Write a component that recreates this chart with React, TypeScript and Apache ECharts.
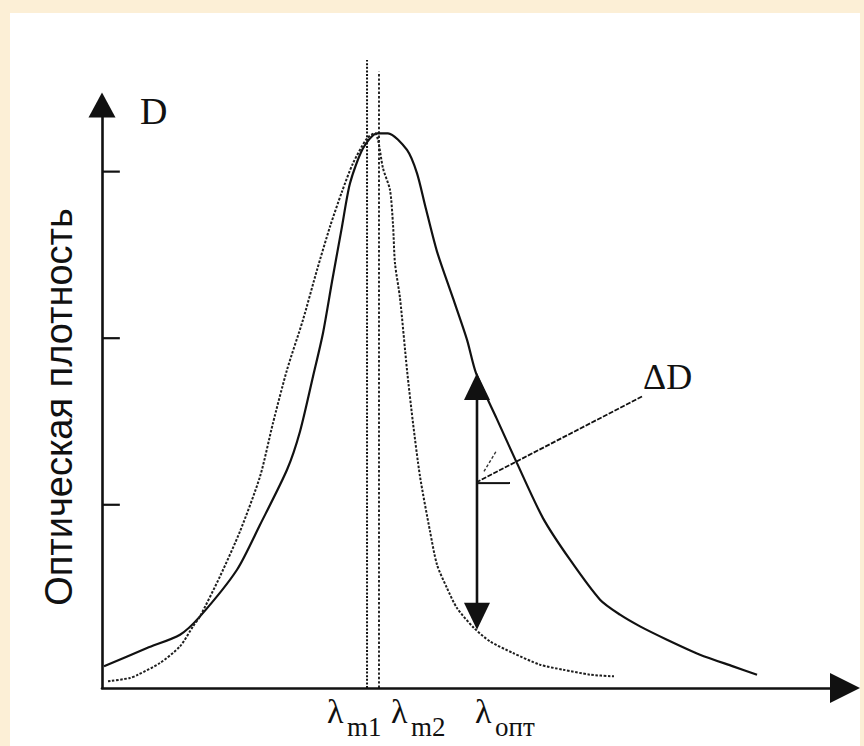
import React, { useEffect, useRef } from "react";
import * as echarts from "echarts";

// Curve 1 (dotted, maximum at λm1) — [wavelength, optical density]
const curveA: [number, number][] = [
  [0.81, 0.04], [3.77, 0.06], [4.85, 0.08], [7.81, 0.15], [10.5, 0.25], [12.25, 0.37],
  [13.19, 0.43], [15.88, 0.67], [18.57, 0.94], [21.27, 1.27], [23.01, 1.59], [24.9, 1.91],
  [27.05, 2.21], [28.94, 2.51], [30.69, 2.77], [32.3, 2.98], [33.78, 3.15], [35.67, 3.3],
  [36.74, 3.33], [37.15, 3.29], [37.82, 3.12], [38.76, 2.99], [39.17, 2.78], [39.43, 2.55],
  [40.11, 2.34], [41.05, 1.91], [41.86, 1.59], [42.8, 1.27], [44.15, 0.94], [45.09, 0.74],
  [46.43, 0.6], [47.78, 0.48], [50.07, 0.36], [52.22, 0.28], [55.32, 0.21], [58.95, 0.14],
  [62.05, 0.11], [65.68, 0.08], [68.91, 0.07],
];

// Curve 2 (solid, maximum at λm2)
const curveB: [number, number][] = [
  [0.27, 0.13], [6.06, 0.24], [10.5, 0.32], [13.19, 0.43], [18.17, 0.71], [21.27, 0.98],
  [24.9, 1.31], [26.65, 1.54], [28.4, 1.87], [29.74, 2.13], [30.96, 2.44], [32.3, 2.77],
  [33.38, 3.03], [35.13, 3.24], [37.01, 3.33], [38.49, 3.33], [41.05, 3.23], [42.4, 3.09],
  [43.47, 2.9], [45.09, 2.62], [47.24, 2.34], [49.13, 2.09], [50.34, 1.89], [53.09, 1.62],
  [55.85, 1.35], [59.35, 1.02], [62.99, 0.77], [67.03, 0.53], [69.72, 0.44], [72.41, 0.37],
  [76.04, 0.29], [80.48, 0.2], [84.93, 0.13], [88.16, 0.08],
];

const xMax = 100;
const yMax = 3.5;
const yTicks = [1.1, 2.1, 3.1];
const tickLength = 2.4;

const lambdaM1 = 35.67;
const lambdaM2 = 37.28;
const lambdaOpt = 50.47;
const lambdaM1Top = 3.77;
const lambdaM2Top = 3.7;

// ΔD double arrow (arrow-head centres)
const deltaTop = 1.81;
const deltaBottom = 0.43;

// ΔD leader line with open arrow head
const leader: [number, number][] = [[72.68, 1.75], [50.61, 1.24]];
const barb1: [number, number][] = [[50.61, 1.23], [54.91, 1.23]];
const barb2: [number, number][] = [[51.41, 1.3], [53.03, 1.42]];

const lambdaLabels = [
  { main: "λ", sub: "m1", at: lambdaM1, dx: -40 },
  { main: "λ", sub: "m2", at: lambdaM2, dx: 12 },
  { main: "λ", sub: "опт", at: lambdaOpt, dx: -2 },
];

const yTitle = "Оптическая плотность";
const yLetter = "D";
const deltaLabel = "ΔD";

const INK = "#111";
const SERIF = '"Liberation Serif", "Times New Roman", "DejaVu Serif", serif';
const SANS = '"Liberation Sans", Arial, "DejaVu Sans", sans-serif';

function segment(data: any[], lineStyle: any, z = 3) {
  return {
    type: "line",
    data,
    symbol: "none",
    clip: false,
    silent: true,
    z,
    emphasis: { disabled: true },
    lineStyle,
  };
}

export default function App() {
  const ref = useRef<HTMLDivElement>(null);

  useEffect(() => {
    document.body.style.margin = "0";
    if (!ref.current) return;
    const chart = echarts.init(ref.current, undefined, { renderer: "svg" });

    const axisCommon = {
      type: "value",
      axisTick: { show: false },
      axisLabel: { show: false },
      splitLine: { show: false },
    };

    const series: any[] = [
      {
        name: "curve2",
        type: "line",
        data: curveB,
        symbol: "none",
        smooth: 0.25,
        silent: true,
        z: 4,
        lineStyle: { color: INK, width: 2.2 },
      },
      {
        name: "curve1",
        type: "line",
        data: curveA,
        symbol: "none",
        smooth: 0.25,
        silent: true,
        z: 4,
        lineStyle: { color: "#1e1e1e", width: 2, type: [2.5, 1.6] },
      },
      segment(
        [[lambdaM1, 0], [lambdaM1, lambdaM1Top]],
        { color: INK, width: 2, type: [2, 1.6] }
      ),
      segment(
        [[lambdaM2, 0], [lambdaM2, lambdaM2Top]],
        { color: INK, width: 1.8, type: [2.4, 2] }
      ),
      ...yTicks.map((v) => segment([[0, v], [tickLength, v]], { color: INK, width: 2.2 })),
      {
        type: "line",
        data: [
          { value: [lambdaOpt, deltaTop], symbol: "triangle", symbolRotate: 0 },
          { value: [lambdaOpt, deltaBottom], symbol: "triangle", symbolRotate: 180 },
        ],
        symbolSize: [26, 27],
        showSymbol: true,
        clip: false,
        silent: true,
        z: 5,
        emphasis: { disabled: true },
        itemStyle: { color: INK, borderWidth: 0 },
        lineStyle: { color: INK, width: 2.6 },
      },
      segment(leader, { color: INK, width: 1.8, type: [5, 1.5] }, 5),
      segment(barb1, { color: INK, width: 2 }, 5),
      segment(barb2, { color: "#333", width: 1.4, type: [3, 2] }, 5),
    ];

    chart.setOption({
      animation: false,
      grid: { left: 102, right: 19, top: 105, bottom: 58, containLabel: false },
      xAxis: {
        ...axisCommon,
        min: 0,
        max: xMax,
        axisLine: {
          show: true,
          onZero: true,
          symbol: ["none", "triangle"],
          symbolSize: [30, 30],
          lineStyle: { color: INK, width: 2.6 },
        },
      },
      yAxis: {
        ...axisCommon,
        min: 0,
        max: yMax,
        axisLine: {
          show: true,
          symbol: ["none", "triangle"],
          symbolSize: [27, 25],
          lineStyle: { color: INK, width: 2.6 },
        },
      },
      series,
    });

    const textStyle = (text: string, size: number, family: string, align = "left") => ({
      text,
      fontSize: size,
      fontFamily: family,
      fill: INK,
      align,
      verticalAlign: "middle",
      textAlign: align,
      textVerticalAlign: "middle",
    });

    const graphics: any[] = [
      {
        type: "text",
        x: 59,
        y: 407,
        rotation: Math.PI / 2,
        silent: true,
        style: textStyle(yTitle, 38, SANS, "center"),
      },
      {
        type: "text",
        x: 140,
        y: 111,
        silent: true,
        style: textStyle(yLetter, 38, SERIF),
      },
      {
        type: "text",
        x: 643,
        y: 377,
        silent: true,
        style: textStyle(deltaLabel, 36, SERIF),
      },
    ];

    lambdaLabels.forEach((l) => {
      const p = chart.convertToPixel({ gridIndex: 0 }, [l.at, 0]) as number[];
      const left = p[0] + l.dx;
      graphics.push({
        type: "text",
        x: left,
        y: 711,
        silent: true,
        style: textStyle(l.main, 34, SERIF),
      });
      graphics.push({
        type: "text",
        x: left + 20,
        y: 727,
        silent: true,
        style: textStyle(l.sub, 27, SERIF),
      });
    });

    chart.setOption({ graphic: graphics });

    return () => chart.dispose();
  }, []);

  return (
    <div style={{ position: "relative", width: 864, height: 746, background: "#FCEFD6", overflow: "hidden" }}>
      <div style={{ position: "absolute", left: 10, top: 13, width: 850, height: 733, background: "#ffffff" }} />
      <div ref={ref} style={{ position: "absolute", left: 0, top: 0, width: 864, height: 746 }} />
    </div>
  );
}
